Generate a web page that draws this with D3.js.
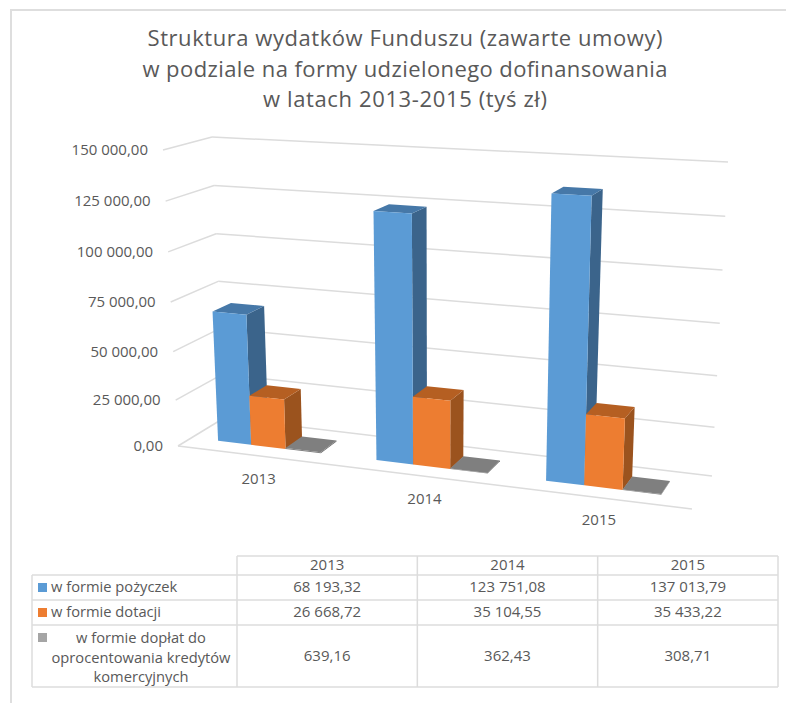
<!DOCTYPE html>
<html lang="pl">

<head>
    <meta charset="UTF-8">
    <title>Struktura wydatków Funduszu</title>
    <script src="https://cdn.jsdelivr.net/npm/d3@7"></script>
    <style>
    html, body{
        margin: 0;
        padding: 0;
        background: #fff;
    }
    text{
        font-family: "Open Sans", "Noto Sans", sans-serif;
        fill: #595959;
    }
    </style>
</head>

<body>
    <div id="root"></div>

    <script>
        // dane
        let years = ["2013", "2014", "2015"]
        let pozyczki = [68193.32, 123751.08, 137013.79]
        let dotacje = [26668.72, 35104.55, 35433.22]
        let doplaty = [639.16, 362.43, 308.71]
        let seriesNames = ["w formie pożyczek", "w formie dotacji", "w formie dopłat do oprocentowania kredytów komercyjnych"]
        let legendLines = [["w formie pożyczek"], ["w formie dotacji"], ["w formie dopłat do", "oprocentowania kredytów", "komercyjnych"]]
        let yTicks = [0, 25000, 50000, 75000, 100000, 125000, 150000]
        let titleLines = ["Struktura wydatków Funduszu (zawarte umowy)", "w podziale na formy udzielonego dofinansowania", "w latach 2013-2015 (tyś zł)"]
        let seriesValues = [pozyczki, dotacje, doplaty]

        let width = 786, height = 703

        // front/side/top colours per series
        let faceColors = [
            {front: "#5b9bd5", side: "#3b648b", top: "#4678a8"},
            {front: "#ed7d31", side: "#9b531e", top: "#b55f22"},
            {front: "#7f7f7f", side: "#6a6a6a", top: "#7f7f7f"}
        ]
        let legendColors = ["#5b9bd5", "#ed7d31", "#a5a5a5"]

        // corners of the 3d box on the screen
        let floorBox = {fl: [178, 446], fr: [692, 509], bl: [224, 418], br: [712, 476]}
        let topBox = {fl: [163, 150], fr: [706, 178], bl: [212, 137], br: [728, 162]}

        let locale = d3.formatLocale({decimal: ",", thousands: " ", grouping: [3]})
        let fmt = locale.format(",.2f")

        let svg = d3.select("#root").append("svg").attr("width", width).attr("height", height)

        function lerp(a, b, t){
            return [a[0] + (b[0] - a[0]) * t, a[1] + (b[1] - a[1]) * t]
        }

        function onPlane(box, u, d){
            return lerp(lerp(box.fl, box.fr, u), lerp(box.bl, box.br, u), d)
        }

        // scales: category position, series in a category, bar depth, value height
        let catScale = d3.scaleBand().domain(years).range([0.0075, 0.9875]).paddingInner(0.34).paddingOuter(0.17)
        let serScale = d3.scaleBand().domain(d3.range(seriesValues.length)).range([0, catScale.bandwidth()])
        let uWarp = d3.scalePow().exponent(1.07).domain([0, 1]).range([0, 1])
        let hScale = d3.scalePow().exponent(1.04).domain([0, 150000]).range([0, 1])
        let barDepth = [0.3, 0.7]

        function project(t, d, value){
            let u = uWarp(t)
            return lerp(onPlane(floorBox, u, d), onPlane(topBox, u, d), hScale(value))
        }

        let line = d3.line()
        function poly(pts){ return line(pts) + "Z" }

        // gridlines
        let grid = svg.append("g").attr("stroke", "#dcdcdc").attr("stroke-width", 1.5).attr("fill", "none")
        grid.selectAll("path.side").data(yTicks).enter().append("path")
            .attr("d", v => line([project(0, 0, v), project(0, 1, v)]))
        grid.selectAll("path.back").data(yTicks).enter().append("path")
            .attr("d", v => line([project(0, 1, v), project(1, 1, v)]))
        grid.append("path").attr("d", line([project(0, 0, 0), project(1, 0, 0)]))

        // y labels
        svg.append("g").selectAll("text").data(yTicks).enter().append("text")
            .attr("x", v => project(0, 0, v)[0] - 15)
            .attr("y", v => project(0, 0, v)[1] + 5)
            .attr("text-anchor", "end")
            .attr("font-size", 15)
            .text(v => fmt(v))

        // bars
        let bars = []
        years.forEach(function(year, i){
            seriesValues.forEach(function(vals, s){
                bars.push({year: year, s: s, value: vals[i]})
            })
        })

        let barG = svg.append("g").selectAll("g").data(bars).enter().append("g")

        barG.each(function(b){
            let g = d3.select(this)
            let t0 = catScale(b.year) + serScale(b.s)
            let t1 = t0 + serScale.bandwidth()
            let d0 = barDepth[0], d1 = barDepth[1]
            let c = faceColors[b.s]
            g.append("path").attr("fill", c.side)
                .attr("d", poly([project(t1, d0, 0), project(t1, d1, 0), project(t1, d1, b.value), project(t1, d0, b.value)]))
            g.append("path").attr("fill", c.top)
                .attr("d", poly([project(t0, d0, b.value), project(t1, d0, b.value), project(t1, d1, b.value), project(t0, d1, b.value)]))
            g.append("path").attr("fill", c.front)
                .attr("d", poly([project(t0, d0, 0), project(t1, d0, 0), project(t1, d0, b.value), project(t0, d0, b.value)]))
        })

        // category labels
        svg.append("g").selectAll("text").data(years).enter().append("text")
            .attr("x", y => project(catScale(y) + catScale.bandwidth() / 2, 0, 0)[0] + 3)
            .attr("y", y => project(catScale(y) + catScale.bandwidth() / 2, 0, 0)[1] + 28)
            .attr("text-anchor", "middle")
            .attr("font-size", 15)
            .text(y => y)

        // title
        svg.append("g").selectAll("text").data(titleLines).enter().append("text")
            .attr("x", 405)
            .attr("y", (l, i) => [46, 77, 107][i])
            .attr("text-anchor", "middle")
            .attr("font-size", 22)
            .attr("textLength", (l, i) => [515, 525, 284][i])
            .attr("lengthAdjust", "spacing")
            .text(l => l)

        // ------------------ data table ------------------
        let colX = d3.scaleBand().domain(years).range([237, 778])
        let rowEdges = [556, 575, 600, 625, 687]
        let tableLeft = 32
        let table = svg.append("g").attr("stroke", "#dcdcdc").attr("stroke-width", 1.5)

        rowEdges.forEach(function(y, i){
            table.append("line").attr("x1", i == 0 ? 237 : tableLeft).attr("x2", 778).attr("y1", y).attr("y2", y)
        })
        years.concat("end").forEach(function(y, i){
            let x = i < years.length ? colX(y) : colX.range()[1]
            table.append("line").attr("x1", x).attr("x2", x).attr("y1", 556).attr("y2", 687)
        })
        table.append("line").attr("x1", tableLeft).attr("x2", tableLeft).attr("y1", 575).attr("y2", 687)

        function midRow(i){ return (rowEdges[i] + rowEdges[i + 1]) / 2 + 4.5 }

        svg.append("g").selectAll("text").data(years).enter().append("text")
            .attr("x", y => colX(y) + colX.bandwidth() / 2)
            .attr("y", midRow(0))
            .attr("text-anchor", "middle")
            .attr("font-size", 15)
            .text(y => y)

        seriesValues.forEach(function(vals, s){
            svg.append("g").selectAll("text").data(vals).enter().append("text")
                .attr("x", (v, i) => colX(years[i]) + colX.bandwidth() / 2)
                .attr("y", midRow(s + 1))
                .attr("text-anchor", "middle")
                .attr("font-size", 15)
                .text(v => fmt(v))

            svg.append("rect")
                .attr("x", 38).attr("width", 9).attr("height", 9)
                .attr("y", rowEdges[s + 1] + 8)
                .attr("fill", legendColors[s])
                .append("title").text(seriesNames[s])

            let lines = legendLines[s]
            svg.append("g").selectAll("text").data(lines).enter().append("text")
                .attr("x", lines.length > 1 ? 141 : 51)
                .attr("y", (l, i) => lines.length > 1 ? 643 + i * 19.5 : midRow(s + 1))
                .attr("text-anchor", lines.length > 1 ? "middle" : "start")
                .attr("font-size", 14.7)
                .text(l => l)
        })

        // screenshot frame, top and left
        svg.append("path").attr("d", "M11,703V10H786").attr("fill", "none")
            .attr("stroke", "#dedede").attr("stroke-width", 2)
    </script>
</body>

</html>
